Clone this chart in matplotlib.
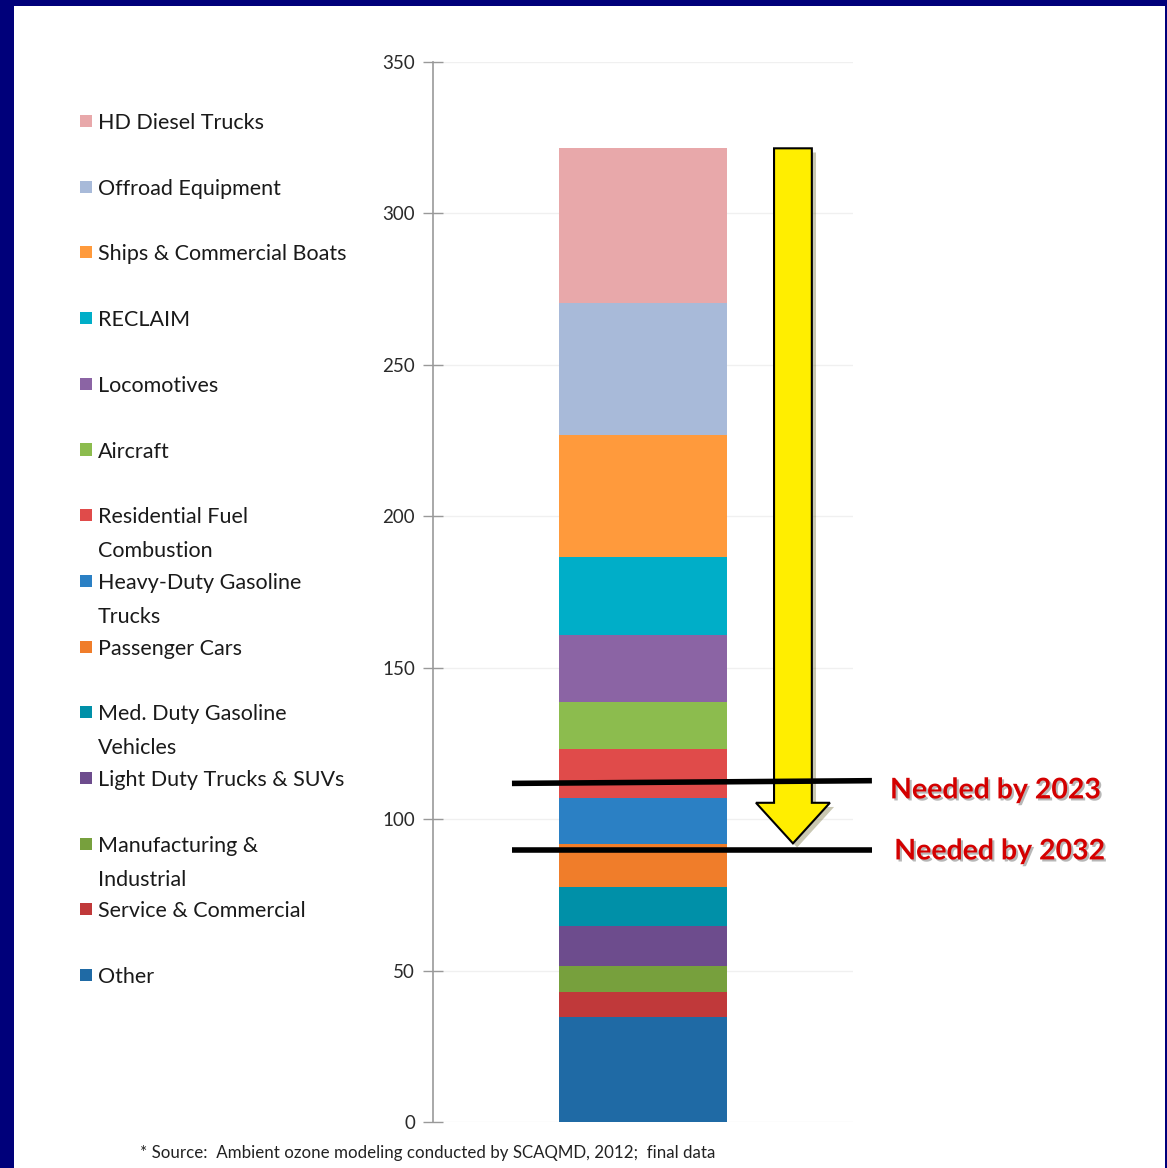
import matplotlib
matplotlib.use("Agg")
import matplotlib.pyplot as plt
from matplotlib.patches import Rectangle
import matplotlib.patheffects as pe

plt.rcParams['font.family'] = ['Lato', 'DejaVu Sans']

# Categories, bottom of stack to top
categories = [
    "Other",
    "Service & Commercial",
    "Manufacturing &\nIndustrial",
    "Light Duty Trucks & SUVs",
    "Med. Duty Gasoline\nVehicles",
    "Passenger Cars",
    "Heavy-Duty Gasoline\nTrucks",
    "Residential Fuel\nCombustion",
    "Aircraft",
    "Locomotives",
    "RECLAIM",
    "Ships & Commercial Boats",
    "Offroad Equipment",
    "HD Diesel Trucks",
]
values = [34.8, 8.2, 8.5, 13.3, 12.9, 14.1, 15.1, 16.2, 15.5, 22.2, 25.8, 40.2, 43.5, 51.2]
colors = ["#1F6AA5", "#C0393A", "#77A03D", "#6D4C8D", "#0090A8", "#F07D2A",
          "#2B80C4", "#E04B4A", "#8CBC4E", "#8B64A4", "#00AEC8", "#FF9A3C",
          "#A8BAD9", "#E8A8AA"]

yticks = [0, 50, 100, 150, 200, 250, 300, 350]
target_labels = ["Needed by 2023", "Needed by 2032"]
target_values = [(111.8, 112.7), (89.8, 89.8)]
arrow_top = 321.5
arrow_tip = 92.0
source_note = "* Source:  Ambient ozone modeling conducted by SCAQMD, 2012;  final data"

W, H = 1167, 1168
fig = plt.figure(figsize=(W / 100, H / 100), dpi=100)
fig.patch.set_facecolor("#00007A")
fig.patches.append(Rectangle((14 / W, 0), (1165 - 14) / W, 1 - 6 / H,
                             transform=fig.transFigure, facecolor="white",
                             edgecolor="none", zorder=-5))

ax = fig.add_axes([433 / W, 1 - 1122 / H, (853 - 433) / W, (1122 - 62) / H])
ax.set_zorder(2)
ax.set_facecolor("none")

bottom = 0.0
for v, c in zip(values, colors):
    ax.bar(0, v, width=0.4, bottom=bottom, color=c, edgecolor="none", zorder=2)
    bottom += v

ax.set_xlim(-0.5, 0.5)
ax.set_ylim(0, 350)
ax.set_yticks(yticks)
ax.set_xticks([])
for s in ["top", "right", "bottom"]:
    ax.spines[s].set_visible(False)
ax.spines["left"].set_color("#999999")
ax.spines["left"].set_linewidth(1.2)
ax.tick_params(axis="y", direction="inout", length=14, width=1, color="#999999",
               labelsize=13.5, labelcolor="#2a2a2a", pad=6)
ax.yaxis.grid(True, color="#f0f0f0", linewidth=1, zorder=0)
ax.set_axisbelow(True)

# Yellow arrow
ax.arrow(0.357, arrow_top, 0, arrow_tip - arrow_top, width=0.09, head_width=0.176,
         head_length=13.4, length_includes_head=True, facecolor="#FFEE00",
         edgecolor="black", linewidth=1.5, zorder=4, clip_on=False,
         path_effects=[pe.SimplePatchShadow(offset=(3, -3), alpha=0.3), pe.Normal()])

# Target lines and labels
for lab, (y0, y1), tx, dy in zip(target_labels, target_values, [0.588, 0.598], [-7, -1]):
    ax.plot([-0.312, 0.545], [y0, y1], color="black", linewidth=4, zorder=5,
            clip_on=False, solid_capstyle="butt")
    ax.annotate(lab, xy=(tx, y1), xytext=(0, dy), textcoords="offset points",
                color="#D40000", fontsize=20.5, fontweight="bold",
                va="center", ha="left", annotation_clip=False,
                path_effects=[pe.withSimplePatchShadow(offset=(1.5, -1.5),
                                                       shadow_rgbFace="#888888", alpha=0.6)])

# Manual legend (top entry = last category)
for i, idx in enumerate(range(len(categories) - 1, -1, -1)):
    ycen = 121 + i * 65.7
    fig.patches.append(Rectangle((80 / W, 1 - (ycen + 6) / H), 12 / W, 12 / H,
                                 transform=fig.transFigure, facecolor=colors[idx],
                                 edgecolor="none", zorder=3))
    fig.text(98 / W, 1 - (ycen - 8) / H, categories[idx], fontsize=15.5,
             color="#1a1a1a", va="top", ha="left", linespacing=1.88)

fig.text(140 / W, 1 - 1153 / H, source_note, fontsize=12.2, color="#222222",
         va="center", ha="left")

fig.savefig("out.png", dpi=100, facecolor=fig.get_facecolor())
